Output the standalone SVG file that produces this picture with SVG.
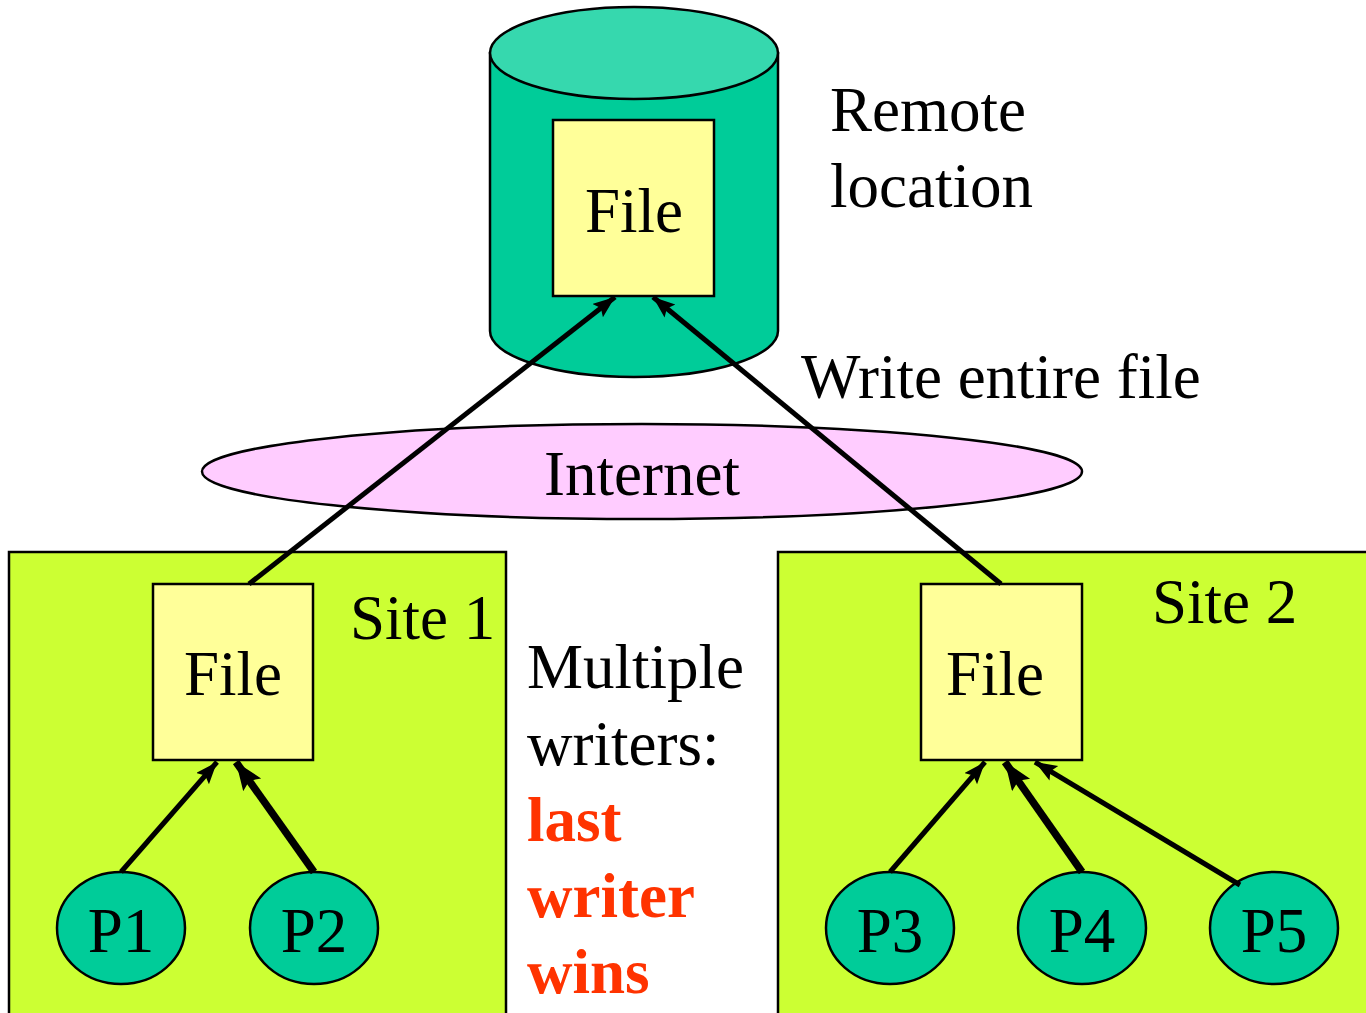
<svg xmlns="http://www.w3.org/2000/svg" width="1366" height="1013" viewBox="0 0 1366 1013">
<style>
text{font-family:"Liberation Serif","Times New Roman",serif;font-size:63px;fill:#000}
.c{text-anchor:middle}
.red{fill:#FF3300;font-weight:bold}
.file{fill:#FFFF99;stroke:#000;stroke-width:2.5}
.site{fill:#CCFF33;stroke:#000;stroke-width:2.5}
.proc{fill:#00CC99;stroke:#000;stroke-width:2.5}
.ln{stroke:#000;stroke-width:5;fill:none;marker-end:url(#ah)}
.thick{stroke-width:7.5;marker-end:url(#ahb)}
</style>
<defs>
<marker id="ah" markerUnits="userSpaceOnUse" markerWidth="24" markerHeight="18" refX="22" refY="8.5" orient="auto">
<path d="M0,0 L22,8.5 L0,17 L4,8.5 z" fill="#000"/>
</marker>
<marker id="ahb" markerUnits="userSpaceOnUse" markerWidth="30" markerHeight="24" refX="28" refY="11" orient="auto">
<path d="M0,0 L28,11 L0,22 L5,11 z" fill="#000"/>
</marker>
</defs>
<rect width="1366" height="1013" fill="#fff"/>
<g id="site1">
<rect class="site" x="9" y="552" width="497" height="470"/>
<text x="350" y="639">Site 1</text>
</g>
<g id="site2">
<rect class="site" x="778" y="552" width="600" height="470"/>
<text x="1152" y="623">Site 2</text>
</g>
<g id="remote">
<path d="M490,53 L490,331 A144,46 0 0 0 778,331 L778,53 Z" fill="#00CC99" stroke="#000" stroke-width="2.5"/>
<ellipse cx="634" cy="53" rx="144" ry="46" fill="#36D8AE" stroke="#000" stroke-width="2.5"/>
</g>
<g id="remote-file">
<rect class="file" x="553" y="120" width="161" height="176"/>
<text class="c" x="634" y="232">File</text>
</g>
<g id="remote-label">
<text x="830" y="131">Remote</text>
<text x="830" y="207">location</text>
</g>
<g id="internet">
<ellipse cx="642" cy="471.5" rx="440" ry="47.5" fill="#FFCCFF" stroke="#000" stroke-width="2.5"/>
<text class="c" x="642" y="495">Internet</text>
</g>
<g id="write-label">
<text x="801" y="398">Write entire file</text>
</g>
<g id="file1">
<rect class="file" x="153" y="584" width="160" height="176"/>
<text class="c" x="233" y="695">File</text>
</g>
<g id="file2">
<rect class="file" x="921" y="584" width="161" height="176"/>
<text class="c" x="995" y="695">File</text>
</g>
<g id="p1"><ellipse class="proc" cx="121" cy="928" rx="64" ry="56"/><text class="c" x="121" y="952">P1</text></g>
<g id="p2"><ellipse class="proc" cx="314" cy="928" rx="64" ry="56"/><text class="c" x="314" y="952">P2</text></g>
<g id="p3"><ellipse class="proc" cx="890" cy="928" rx="64" ry="56"/><text class="c" x="890" y="952">P3</text></g>
<g id="p4"><ellipse class="proc" cx="1082" cy="928" rx="64" ry="56"/><text class="c" x="1082" y="952">P4</text></g>
<g id="p5"><ellipse class="proc" cx="1274" cy="928" rx="64" ry="56"/><text class="c" x="1274" y="952">P5</text></g>
<g id="note">
<text x="527" y="688">Multiple</text>
<text x="527" y="765">writers:</text>
<text class="red" x="527" y="841">last</text>
<text class="red" x="527" y="917">writer</text>
<text class="red" x="527" y="993">wins</text>
</g>
<g id="connectors">
<line class="ln" x1="249" y1="584" x2="615" y2="297"/>
<line class="ln" x1="1001" y1="584" x2="653" y2="297"/>
<line class="ln" x1="121" y1="872" x2="217" y2="762"/>
<line class="ln thick" x1="314" y1="872" x2="236" y2="762"/>
<line class="ln" x1="890" y1="872" x2="985" y2="762"/>
<line class="ln thick" x1="1082" y1="872" x2="1005" y2="762"/>
<line class="ln" x1="1240" y1="885" x2="1035" y2="762"/>
</g>
</svg>
